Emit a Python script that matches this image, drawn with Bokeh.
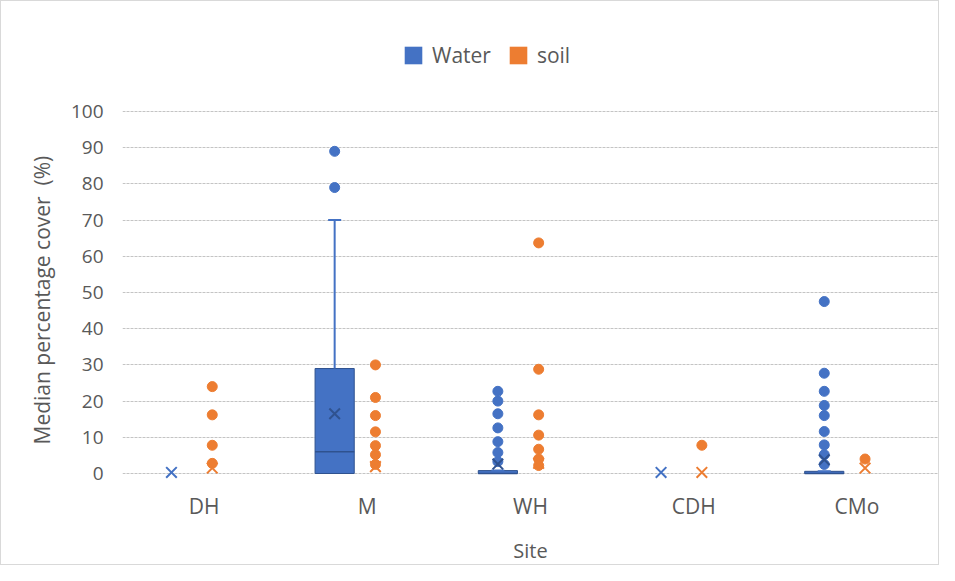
from bokeh.plotting import figure
from bokeh.models import ColumnDataSource, FactorRange, Range1d, Legend, LegendItem, FixedTicker, Title
from bokeh.transform import dodge
from bokeh.embed import file_html
from bokeh.resources import INLINE

# ---------------- data ----------------
sites = ["DH", "M", "WH", "CDH", "CMo"]
y_ticks = [0, 10, 20, 30, 40, 50, 60, 70, 80, 90, 100]

water_q1 = [0, 0, 0, 0, 0]
water_median = [0, 6, 0, 0, 0]
water_q3 = [0, 29, 0.8, 0, 0.6]
water_whisker_hi = [0, 70, 0.8, 0, 0.6]
water_mean = [0.3, 16.5, 2.6, 0.3, 3.8]
water_outlier_sites = ["M", "M",
                       "WH", "WH", "WH", "WH", "WH", "WH", "WH",
                       "CMo", "CMo", "CMo", "CMo", "CMo", "CMo", "CMo", "CMo", "CMo"]
water_outlier_values = [89, 79,
                        22.7, 20, 16.5, 12.6, 8.8, 5.8, 3.3,
                        47.5, 27.7, 22.7, 18.8, 16, 11.6, 7.9, 5.2, 2.5]

soil_q1 = [0, 0, 0, 0, 0]
soil_median = [0, 0, 0, 0, 0]
soil_q3 = [0, 0, 0, 0, 0]
soil_whisker_hi = [0, 0, 0, 0, 0]
soil_mean = [1.5, 1.9, 2.8, 0.3, 1.5]
soil_outlier_sites = ["DH", "DH", "DH", "DH",
                      "M", "M", "M", "M", "M", "M", "M",
                      "WH", "WH", "WH", "WH", "WH", "WH", "WH",
                      "CDH", "CMo"]
soil_outlier_values = [24, 16.2, 7.8, 2.8,
                       30, 21, 16, 11.5, 7.7, 5.2, 2.5,
                       63.7, 28.8, 16.2, 10.6, 6.7, 4, 2.2,
                       7.8, 4]

# ---------------- styling / layout ----------------
BLUE = "#4472C4"
BLUE_DARK = "#2F528F"
ORANGE = "#ED7D31"
ORANGE_DARK = "#AE5A21"
TEXT = "#595959"
FONT = "Open Sans"

W, H = 939, 565
ZERO_PX = 472          # screen y of the 0 line
HUNDRED_PX = 110       # screen y of the 100 line
BOTTOM = 84            # px below the frame
ppu = (ZERO_PX - HUNDRED_PX) / 100.0
frame_bottom = H - BOTTOM
y_start = -(frame_bottom - ZERO_PX) / ppu
y_end = ZERO_PX / ppu

p = figure(
    x_range=FactorRange(factors=sites, range_padding=0),
    y_range=Range1d(y_start, y_end),
    width=W, height=H,
    output_backend="svg", toolbar_location=None,
    min_border_left=121, min_border_right=2,
    min_border_top=0, min_border_bottom=BOTTOM,
)
p.outline_line_color = None
p.background_fill_color = "white"
p.border_fill_color = "white"

series = [
    ("Water", water_q1, water_median, water_q3, water_whisker_hi, water_mean,
     water_outlier_sites, water_outlier_values, -0.2, BLUE, BLUE_DARK),
    ("soil", soil_q1, soil_median, soil_q3, soil_whisker_hi, soil_mean,
     soil_outlier_sites, soil_outlier_values, 0.05, ORANGE, ORANGE_DARK),
]

BOX_W = 0.24
CAP_W = 0.08
legend_items = []
for name, q1, med, q3, whi, mean, osites, ovals, off, col, dark in series:
    # filled boxes (zero-height boxes vanish, as in the reference)
    fsrc = ColumnDataSource(dict(site=sites, q1=q1, q3=q3))
    fill_box = p.vbar(x=dodge("site", off, range=p.x_range), top="q3", bottom="q1",
                      width=BOX_W, source=fsrc, fill_color=col, line_color=None)
    keep = [i for i in range(len(sites)) if q3[i] > q1[i]]
    bsrc = ColumnDataSource(dict(site=[sites[i] for i in keep],
                                 q1=[q1[i] for i in keep],
                                 med=[med[i] for i in keep],
                                 q3=[q3[i] for i in keep],
                                 whi=[whi[i] for i in keep]))
    p.vbar(x=dodge("site", off, range=p.x_range), top="q3", bottom="q1",
           width=BOX_W, source=bsrc, fill_color=None, line_color=dark, line_width=1)
    p.segment(x0=dodge("site", off, range=p.x_range), x1=dodge("site", off, range=p.x_range),
              y0="q3", y1="whi", source=bsrc, line_color=col, line_width=2)
    p.segment(x0=dodge("site", off - CAP_W / 2, range=p.x_range),
              x1=dodge("site", off + CAP_W / 2, range=p.x_range),
              y0="whi", y1="whi", source=bsrc, line_color=col, line_width=2)
    p.segment(x0=dodge("site", off - BOX_W / 2, range=p.x_range),
              x1=dodge("site", off + BOX_W / 2, range=p.x_range),
              y0="med", y1="med", source=bsrc, line_color=dark, line_width=1.5)
    osrc = ColumnDataSource(dict(site=osites, val=ovals))
    p.scatter(x=dodge("site", off, range=p.x_range), y="val", source=osrc,
              marker="circle", size=10, fill_color=col, line_color=col)
    mcolors = [dark if q3[i] > q1[i] else col for i in range(len(sites))]
    msrc = ColumnDataSource(dict(site=sites, mean=mean, c=mcolors))
    p.scatter(x=dodge("site", off, range=p.x_range), y="mean", source=msrc,
              marker="x", size=15, line_color="c", line_width=2)
    legend_items.append(LegendItem(label=name, renderers=[fill_box]))

# ---------------- axes & grid ----------------
p.yaxis.ticker = FixedTicker(ticks=y_ticks)
p.ygrid.ticker = FixedTicker(ticks=y_ticks)
p.xgrid.grid_line_color = None
p.ygrid.grid_line_color = "#c4c4c4"
p.ygrid.grid_line_dash = "3 1"
p.ygrid.grid_line_width = 1

for ax in (p.xaxis, p.yaxis):
    ax.axis_line_color = None
    ax.major_tick_line_color = None
    ax.minor_tick_line_color = None
    ax.major_tick_out = 0
    ax.major_tick_in = 0
    ax.major_label_text_font = FONT
    ax.major_label_text_color = TEXT
    ax.axis_label_text_font = FONT
    ax.axis_label_text_color = TEXT
    ax.axis_label_text_font_style = "normal"

p.yaxis.major_label_text_font_size = "19px"
p.xaxis.major_label_text_font_size = "21px"
p.xaxis.axis_label_text_font_size = "20px"

p.xaxis.axis_label = "Site"
p.yaxis.major_label_standoff = 19
p.xaxis.major_label_standoff = 18 - (frame_bottom - ZERO_PX)
p.xaxis.axis_label_standoff = 14

# y-axis title placed along the 0..100 span (the frame also holds the legend)
ytitle = Title(text="Median percentage cover \u00a0(%)", align="left",
               offset=38, standoff=23, text_font=FONT, text_font_size="21px",
               text_color=TEXT, text_font_style="normal")
p.add_layout(ytitle, "left")

legend = Legend(items=legend_items, orientation="horizontal",
                location=(280, frame_bottom - 68), glyph_width=22, glyph_height=22,
                label_standoff=8, spacing=16, padding=0, margin=0,
                border_line_color=None, background_fill_alpha=0,
                label_text_font=FONT, label_text_font_size="21px",
                label_text_color=TEXT)
p.add_layout(legend, "center")

p.styles = {"border": "1px solid #d9d9d9"}

open("out.html", "w").write(file_html(p, INLINE))
